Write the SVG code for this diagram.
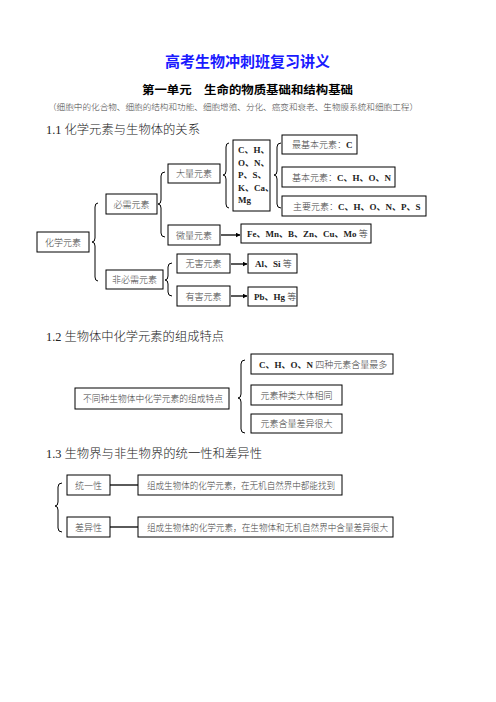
<svg xmlns="http://www.w3.org/2000/svg" width="496" height="702" viewBox="0 0 496 702">
<style>
.bx{fill:#fff;stroke:#000;stroke-width:1}
.t{font-family:"Liberation Serif","Noto Sans CJK SC",serif;font-size:9px;fill:#444;font-weight:300}
.tb{font-family:"Liberation Serif","Noto Sans CJK SC",serif;font-size:9px;fill:#222;font-weight:bold}
.h{font-family:"Liberation Serif","Noto Sans CJK SC",serif;font-size:12.5px;fill:#222;font-weight:300}
.br{fill:none;stroke:#000;stroke-width:1}
.ln{stroke:#000;stroke-width:1.3;fill:none}
</style>
<defs>
<marker id="ah" viewBox="0 0 10 10" refX="9" refY="5" markerWidth="5" markerHeight="5" orient="auto" markerUnits="userSpaceOnUse"><path d="M0,0 L10,5 L0,10 z" fill="#000"/></marker>
</defs>
<rect width="496" height="702" fill="#fff"/>
<g id="header">
<text x="165" y="67" textLength="165" lengthAdjust="spacingAndGlyphs" font-family="'Noto Sans CJK SC',sans-serif" font-size="15" font-weight="bold" fill="#1a1aff">高考生物冲刺班复习讲义</text>
<text x="142" y="94" textLength="211" lengthAdjust="spacingAndGlyphs" font-family="'Noto Sans CJK SC',sans-serif" font-size="11.5" font-weight="bold" fill="#000">第一单元　生命的物质基础和结构基础</text>
<text x="48" y="110" textLength="370" lengthAdjust="spacingAndGlyphs" font-family="'Liberation Serif','Noto Sans CJK SC',serif" font-size="8.4" font-weight="300" fill="#444">（细胞中的化合物、细胞的结构和功能、细胞增殖、分化、癌变和衰老、生物膜系统和细胞工程）</text>
<text x="46" y="134" class="h" textLength="154" lengthAdjust="spacingAndGlyphs">1.1 化学元素与生物体的关系</text>
<text x="46" y="341" class="h" textLength="178" lengthAdjust="spacingAndGlyphs">1.2 生物体中化学元素的组成特点</text>
<text x="46" y="458" class="h" textLength="216" lengthAdjust="spacingAndGlyphs">1.3 生物界与非生物界的统一性和差异性</text>
</g>
<g id="connectors">
<path class="br" d="M98,203 Q95,203 95,207 L95,238 Q95,242 92,242 Q95,242 95,246 L95,277 Q95,281 98,281"/>
<path class="br" d="M165,172 Q161,172 161,176 L161,200 Q161,204 158,204 Q161,204 161,208 L161,233 Q161,237 165,237"/>
<path class="br" d="M172,263 Q168,263 168,267 L168,276 Q168,280 165,280 Q168,280 168,284 L168,292 Q168,296 172,296"/>
<path class="br" d="M229,143 Q226,143 226,147 L226,171 Q226,175 223,175 Q226,175 226,179 L226,204 Q226,208 229,208"/>
<path class="br" d="M281,143 Q277,143 277,147 L277,171 Q277,175 274,175 Q277,175 277,179 L277,204 Q277,208 281,208"/>
<path class="br" d="M245,360 Q241,360 241,364 L241,394 Q241,398 238,398 Q241,398 241,402 L241,429 Q241,433 245,433"/>
<path class="br" d="M62,483 Q58,483 58,487 L58,502 Q58,506 55,506 Q58,506 58,510 L58,528 Q58,532 62,532"/>
<line class="ln" x1="221" y1="235" x2="240" y2="235" marker-end="url(#ah)"/>
<line class="ln" x1="231" y1="264" x2="247" y2="264" marker-end="url(#ah)"/>
<line class="ln" x1="231" y1="296" x2="247" y2="296" marker-end="url(#ah)"/>
<line class="ln" x1="110" y1="485" x2="138" y2="485"/>
<line class="ln" x1="110" y1="527" x2="138" y2="527"/>
</g>
<g id="n-huaxue"><rect class="bx" x="37" y="232" width="52" height="20"/><text class="t" x="63" y="245.5" text-anchor="middle">化学元素</text></g>
<g id="n-bixu"><rect class="bx" x="106" y="194" width="51" height="20"/><text class="t" x="131.5" y="207.5" text-anchor="middle">必需元素</text></g>
<g id="n-feibixu"><rect class="bx" x="106" y="270" width="57" height="19"/><text class="t" x="134.5" y="283" text-anchor="middle">非必需元素</text></g>
<g id="n-daliang"><rect class="bx" x="168" y="164" width="52" height="19"/><text class="t" x="194" y="177" text-anchor="middle">大量元素</text></g>
<g id="n-weiliang"><rect class="bx" x="168" y="225" width="52" height="20"/><text class="t" x="194" y="238.5" text-anchor="middle">微量元素</text></g>
<g id="n-wuhai"><rect class="bx" x="177" y="254" width="53" height="19"/><text class="t" x="203.5" y="267" text-anchor="middle">无害元素</text></g>
<g id="n-youhai"><rect class="bx" x="177" y="286" width="53" height="20"/><text class="t" x="203.5" y="299.5" text-anchor="middle">有害元素</text></g>
<g id="n-list"><rect class="bx" x="233" y="140" width="37" height="71"/>
<text class="tb" x="238" y="153">C、H、</text>
<text class="tb" x="238" y="166">O、N、</text>
<text class="tb" x="238" y="178">P、S、</text>
<text class="tb" x="238" y="191">K、Ca、</text>
<text class="tb" x="238" y="203">Mg</text></g>
<g id="n-zuijiben"><rect class="bx" x="282" y="135" width="75" height="19"/><text class="t" x="292" y="148">最基本元素：<tspan class="tb">C</tspan></text></g>
<g id="n-jiben"><rect class="bx" x="282" y="167" width="113" height="20"/><text class="t" x="292" y="180.5">基本元素：<tspan class="tb">C、H、O、N</tspan></text></g>
<g id="n-zhuyao"><rect class="bx" x="282" y="196" width="144" height="20"/><text class="t" x="293" y="209.5">主要元素：<tspan class="tb">C、H、O、N、P、S</tspan></text></g>
<g id="n-fe"><rect class="bx" x="241" y="224" width="130" height="19"/><text class="tb" x="247" y="237">Fe、Mn、B、Zn、Cu、Mo <tspan class="t">等</tspan></text></g>
<g id="n-al"><rect class="bx" x="248" y="254" width="49" height="19"/><text class="tb" x="255" y="267">Al、Si <tspan class="t">等</tspan></text></g>
<g id="n-pb"><rect class="bx" x="248" y="287" width="49" height="19"/><text class="tb" x="254" y="300">Pb、Hg <tspan class="t">等</tspan></text></g>
<g id="n-butong"><rect class="bx" x="75" y="388" width="154" height="21"/><text class="t" x="83" y="402" textLength="140" lengthAdjust="spacingAndGlyphs">不同种生物体中化学元素的组成特点</text></g>
<g id="n-chon"><rect class="bx" x="251" y="354" width="142" height="20"/><text class="tb" x="259" y="367.5">C、H、O、N <tspan class="t">四种元素含量最多</tspan></text></g>
<g id="n-zhonglei"><rect class="bx" x="251" y="385" width="91" height="20"/><text class="t" x="296.5" y="398.5" text-anchor="middle">元素种类大体相同</text></g>
<g id="n-hanliang"><rect class="bx" x="251" y="414" width="91" height="19"/><text class="t" x="296.5" y="427" text-anchor="middle">元素含量差异很大</text></g>
<g id="n-tongyi"><rect class="bx" x="67" y="475" width="43" height="20"/><text class="t" x="88.5" y="488.5" text-anchor="middle">统一性</text></g>
<g id="n-chayi"><rect class="bx" x="67" y="517" width="43" height="20"/><text class="t" x="88.5" y="530.5" text-anchor="middle">差异性</text></g>
<g id="n-tongyi-d"><rect class="bx" x="138" y="475" width="204" height="20"/><text class="t" x="147" y="488.5" textLength="188" lengthAdjust="spacingAndGlyphs">组成生物体的化学元素，在无机自然界中都能找到</text></g>
<g id="n-chayi-d"><rect class="bx" x="138" y="517" width="255" height="20"/><text class="t" x="147" y="530.5" textLength="241" lengthAdjust="spacingAndGlyphs">组成生物体的化学元素，在生物体和无机自然界中含量差异很大</text></g>
</svg>
